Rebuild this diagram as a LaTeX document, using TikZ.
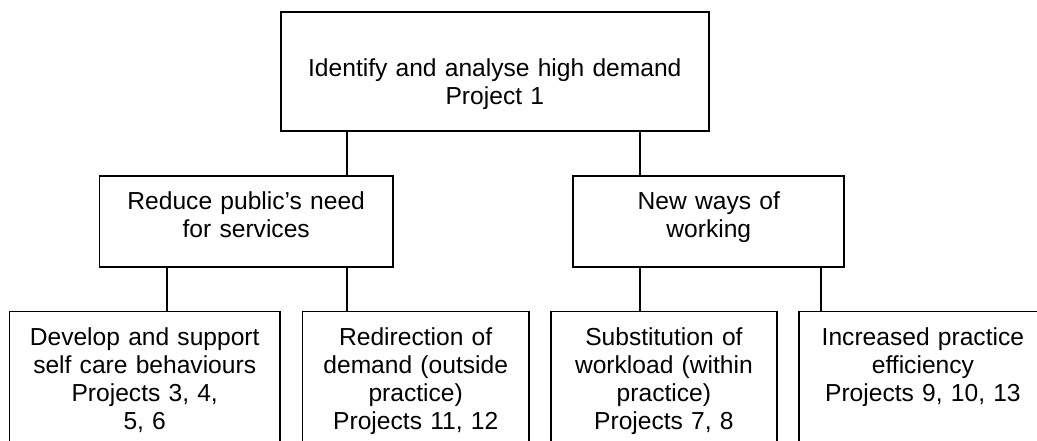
\documentclass[tikz,border=0pt]{standalone}
\usepackage{fontspec}
\setmainfont{Liberation Sans}
\tikzstyle{box} = [rectangle, draw=black, line width=0.9pt, inner sep=0pt, align=center, font=\fontsize{12.3pt}{14pt}\selectfont]
\tikzstyle{aim} = [box, text width=214pt, text height=32pt, text depth=27.5pt]
\tikzstyle{route} = [box, text height=16.7pt, text depth=28.8pt]
\tikzstyle{action} = [box, text height=16.8pt, text depth=80pt]
\tikzstyle{branch} = [line width=0.9pt]

\begin{document}
\begin{tikzpicture}[node distance=75pt]
    \useasboundingbox (0,0) rectangle (518.5pt,-220pt);
    \clip (0,0) rectangle (518.5pt,-220pt);

    \node (aim) [aim] at (247.4pt,-35.75pt) {Identify and analyse high demand\\Project 1};
    \node (reduce) [route, text width=146.8pt, below of=aim, xshift=-124.3pt] {Reduce public’s need\\for services};
    \node (newways) [route, text width=135.5pt, below of=aim, xshift=107pt] {New ways of\\working};
    \node (selfcare) [action, text width=135.3pt, below of=reduce, xshift=-50.75pt, yshift=-18.35pt] {Develop and support\\self care behaviours\\Projects 3, 4,\\5, 6};
    \node (redirect) [action, text width=113.3pt, below of=reduce, xshift=84.75pt, yshift=-18.35pt] {Redirection of\\demand (outside\\practice)\\Projects 11, 12};
    \node (substitute) [action, text width=113pt, below of=newways, xshift=-22.45pt, yshift=-18.35pt] {Substitution of\\workload (within\\practice)\\Projects 7, 8};
    \node (efficiency) [action, text width=124pt, below of=newways, xshift=107.05pt, yshift=-18.35pt] {Increased practice\\efficiency\\Projects 9, 10, 13};

    \draw [branch] ([xshift=124.3pt]reduce.north west) -- ([xshift=124.3pt]reduce.north west |- aim.south);
    \draw [branch] ([xshift=33.9pt]newways.north west) -- ([xshift=33.9pt]newways.north west |- aim.south);
    \draw [branch] ([xshift=34.2pt]reduce.south west) -- ([xshift=34.2pt]reduce.south west |- selfcare.north);
    \draw [branch] ([xshift=124.3pt]reduce.south west) -- ([xshift=124.3pt]reduce.south west |- redirect.north);
    \draw [branch] ([xshift=33.9pt]newways.south west) -- ([xshift=33.9pt]newways.south west |- substitute.north);
    \draw [branch] ([xshift=124.2pt]newways.south west) -- ([xshift=124.2pt]newways.south west |- efficiency.north);
\end{tikzpicture}
\end{document}
